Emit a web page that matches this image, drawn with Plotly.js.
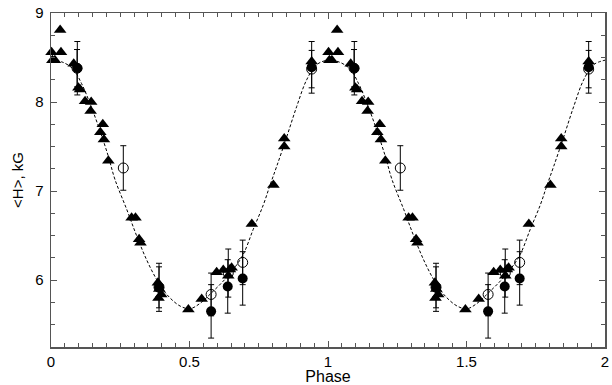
<!DOCTYPE html>
<html>
<head>
<meta charset="utf-8">
<script src="https://cdn.plot.ly/plotly-3.0.1.min.js"></script>
<style>html,body{margin:0;padding:0;background:#fff;}#chart{width:612px;height:385px;}</style>
</head>
<body>
<div id="chart"></div>
<script>
// One rotation period of data (phase 0..1); the chart shows it twice (0..2)
var triPhase = [0.002, 0.036, 0.033, 0.005, 0.014, 0.082, 0.941, 0.099, 0.105, 0.123, 0.145, 0.143, 0.187, 0.178, 0.191, 0.207, 0.291, 0.305, 0.318, 0.323, 0.386, 0.391, 0.398, 0.388, 0.496, 0.544, 0.598, 0.622, 0.646, 0.652, 0.640, 0.725, 0.803, 0.842, 0.842];
var triH     = [8.56, 8.56, 8.81, 8.47, 8.47, 8.43, 8.455, 8.16, 8.14, 8.01, 8.00, 7.90, 7.75, 7.66, 7.58, 7.34, 6.70, 6.70, 6.46, 6.42, 5.97, 5.90, 5.84, 5.80, 5.67, 5.79, 6.09, 6.115, 6.12, 6.14, 6.05, 6.63, 7.07, 7.59, 7.50];

var openPhase = [0.094, 0.261, 0.390, 0.578, 0.640, 0.692, 0.941];
var openH     = [8.38, 7.26, 5.92, 5.84, 6.08, 6.20, 8.37];
var openErr   = [0.21, 0.25, 0.23, 0.24, 0.27, 0.25, 0.21];

var filledPhase = [0.095, 0.390, 0.578, 0.638, 0.692, 0.941];
var filledH     = [8.38, 5.92, 5.65, 5.93, 6.02, 8.39];
var filledErr   = [0.30, 0.27, 0.30, 0.30, 0.30, 0.29];

var curvePhase = [0.00, 0.04, 0.08, 0.11, 0.135, 0.171, 0.207, 0.231, 0.274, 0.309, 0.345, 0.381, 0.418, 0.466, 0.502, 0.538, 0.580, 0.622, 0.658, 0.694, 0.730, 0.767, 0.791, 0.815, 0.851, 0.887, 0.923, 0.959, 1.00];
var curveH     = [8.47, 8.45, 8.37, 8.21, 8.03, 7.73, 7.39, 7.13, 6.79, 6.50, 6.23, 6.01, 5.84, 5.71, 5.68, 5.74, 5.86, 5.99, 6.12, 6.29, 6.57, 6.85, 7.07, 7.28, 7.61, 7.95, 8.25, 8.42, 8.47];

var xTickVals = [0, 0.5, 1, 1.5, 2];
var xTickText = ['0', '0.5', '1', '1.5', '2'];
var yTickVals = [6, 7, 8, 9];
var yTickText = ['6', '7', '8', '9'];

function twoCycles(ph, extra) {
  var x = [], idx = [];
  for (var c = 0; c < 2; c++) {
    for (var i = 0; i < ph.length; i++) {
      var v = ph[i] + c;
      if (c === 1 && extra === 'skipFirst' && i === 0) continue;
      if (v <= 2) { x.push(v); idx.push(i); }
    }
  }
  return {x: x, idx: idx};
}
function pick(arr, idx) { return idx.map(function (i) { return arr[i]; }); }

var cc = twoCycles(curvePhase, 'skipFirst');
var tc = twoCycles(triPhase);
var oc = twoCycles(openPhase);
var fc = twoCycles(filledPhase);

var traces = [
  {x: cc.x, y: pick(curveH, cc.idx), mode: 'lines', type: 'scatter',
   line: {color: '#000', width: 1, dash: '3px,2px', shape: 'spline', smoothing: 1},
   hoverinfo: 'skip'},
  {x: oc.x, y: pick(openH, oc.idx), mode: 'markers', type: 'scatter', cliponaxis: false,
   marker: {symbol: 'circle-open', size: 10, color: '#000', line: {width: 1, color: '#000'}},
   error_y: {type: 'data', array: pick(openErr, oc.idx), visible: true, color: '#000', thickness: 1, width: 3}},
  {x: fc.x, y: pick(filledH, fc.idx), mode: 'markers', type: 'scatter', cliponaxis: false,
   marker: {symbol: 'circle', size: 10, color: '#000'},
   error_y: {type: 'data', array: pick(filledErr, fc.idx), visible: true, color: '#000', thickness: 1, width: 3}},
  {x: tc.x, y: pick(triH, tc.idx), mode: 'markers', type: 'scatter', cliponaxis: false,
   marker: {symbol: 'triangle-up', size: 11, color: '#000'}}
];

var axisCommon = {
  showline: true, linecolor: '#555', linewidth: 1.5, mirror: 'ticks',
  ticks: 'inside', tickcolor: '#555', tickwidth: 1, ticklen: 6,
  showgrid: false, zeroline: false,
  tickfont: {family: 'Liberation Sans, Arial, sans-serif', size: 15, color: '#000'}
};

var layout = {
  width: 612, height: 385,
  margin: {l: 51, r: 7, t: 13, b: 38},
  paper_bgcolor: '#fff', plot_bgcolor: '#fff',
  showlegend: false,
  xaxis: Object.assign({}, axisCommon, {
    range: [0, 2], tickmode: 'array', tickvals: xTickVals, ticktext: xTickText,
    minor: {dtick: 0.05, ticks: 'inside', ticklen: 4, tickcolor: '#555'},
    title: {text: 'Phase', font: {family: 'Liberation Sans, Arial, sans-serif', size: 16, color: '#000'}, standoff: 0}
  }),
  yaxis: Object.assign({}, axisCommon, {
    range: [5.25, 9], tickmode: 'array', tickvals: yTickVals, ticktext: yTickText,
    minor: {dtick: 0.25, ticks: 'inside', ticklen: 4, tickcolor: '#555'},
    ticklabelstandoff: 3,
    title: {text: '&lt;H&gt;, kG', font: {family: 'Liberation Sans, Arial, sans-serif', size: 15, color: '#000'}, standoff: 8}
  })
};

Plotly.newPlot('chart', traces, layout, {staticPlot: true, displayModeBar: false});
</script>
</body>
</html>
